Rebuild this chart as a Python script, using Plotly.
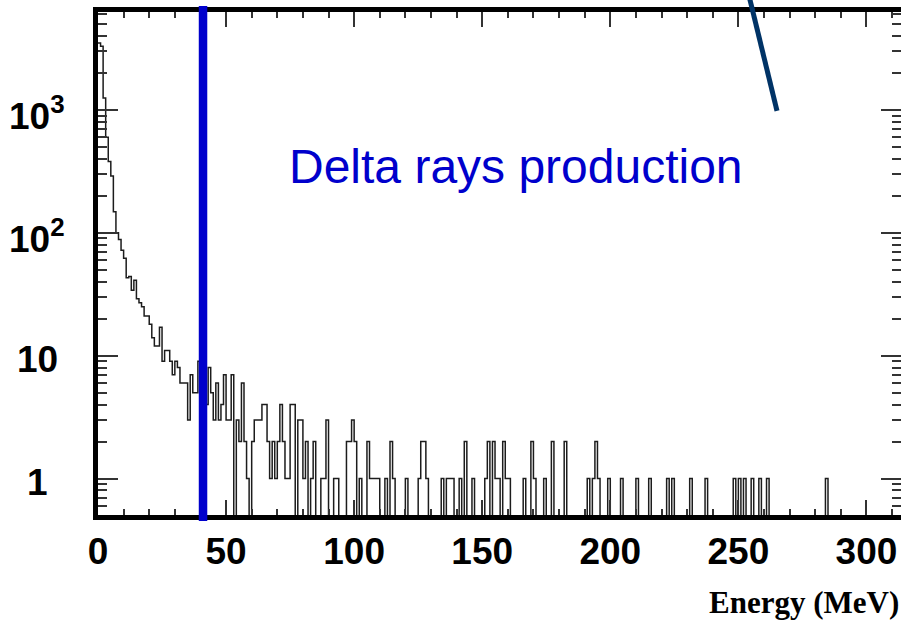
import numpy as np
import plotly.graph_objects as go

# Energy deposit spectrum, 1 MeV bins starting at 0 MeV
bin_width = 1.0
n_bins = 313

# counts in bins 0..99 MeV
counts_low = [
    3500, 3300, 1250, 600, 380, 290, 148, 100, 88, 72, 62, 43, 44, 34, 41, 29, 27, 25, 21, 21,
    18, 14, 12, 12, 17, 9, 11, 11, 9, 7, 9, 8, 6, 6, 6, 3, 7, 5, 5, 9,
    8, 5, 4, 8, 5, 3, 6, 3, 4, 7, 3, 3, 7, 0, 3, 2, 6, 2, 1, 0,
    2, 3, 3, 3, 4, 4, 2, 1, 2, 1, 2, 4, 2, 1, 1, 4, 4, 0, 3, 3,
    1, 2, 0, 1, 2, 0, 0, 1, 1, 3, 0, 0, 1, 1, 0, 0, 0, 2, 2, 3,
]

# non-empty bins above 100 MeV
tail_bins = [100, 102, 105, 106, 107, 108, 109, 112, 114, 115, 120, 125, 126, 127, 128,
             134, 136, 137, 138, 141, 143, 146, 151, 152, 154, 155, 156, 158, 159, 160,
             166, 169, 170, 174, 177, 182, 191, 193, 194, 195, 199, 204, 210, 215, 222,
             224, 231, 237, 248, 250, 252, 255, 258, 261, 284]
tail_counts = [2, 1, 2, 1, 1, 1, 1, 1, 2, 1, 1, 1, 2, 2, 1,
               1, 1, 1, 1, 1, 2, 1, 1, 2, 2, 1, 1, 2, 1, 1,
               1, 2, 1, 1, 2, 2, 1, 1, 2, 1, 1, 1, 1, 1, 1,
               1, 1, 1, 1, 1, 1, 1, 1, 1, 1]

cut_energy = 41.0  # MeV, marked threshold

x_tick_vals = [0, 50, 100, 150, 200, 250, 300]
x_minor_vals = [v for v in range(0, 320, 10) if v % 50 != 0]
y_tick_vals = [1, 10, 100, 1000]
y_tick_text = ["1", "10", "10<sup>2</sup>", "10<sup>3</sup>"]
y_minor_vals = [0.6, 0.7, 0.8, 0.9] + [m * 10 ** e for e in range(0, 4) for m in range(2, 10) if m * 10 ** e < 7000]

# assemble the histogram
counts = np.zeros(n_bins)
counts[:len(counts_low)] = counts_low
counts[np.array(tail_bins)] = tail_counts
edges = np.arange(n_bins + 1) * bin_width
shown = np.where(counts > 0, counts, 1e-2)  # empty bins drop below the axis
step_y = np.append(shown, shown[-1])

fig = go.Figure()
fig.add_trace(go.Scatter(
    x=edges, y=step_y, mode="lines",
    line=dict(shape="hv", color="#1c1c1c", width=1.5),
    hoverinfo="skip",
))

L, R, T, B = 98, 0, 12, 104.5
W, H = 901, 620
plot_h = H - T - B
plot_w = W - L - R

axis_font = dict(family="Liberation Sans, Arial, sans-serif", size=37, color="black", weight="bold")

fig.update_layout(
    width=W, height=H,
    margin=dict(l=L, r=R, t=T, b=B, autoexpand=False),
    plot_bgcolor="white", paper_bgcolor="white",
    showlegend=False,
)
fig.update_xaxes(
    range=[0, 313.5], showgrid=False, zeroline=False, automargin=False,
    showline=True, linewidth=5, linecolor="black", mirror="allticks",
    ticks="inside", ticklen=15, tickwidth=1.6, tickcolor="#333",
    tickmode="array", tickvals=x_tick_vals,
    tickfont=axis_font,
    minor=dict(tickmode="array", tickvals=x_minor_vals, ticks="inside",
               ticklen=6, tickwidth=1.6, tickcolor="#333"),
)
fig.update_yaxes(
    type="log", range=[-0.297, 3.797], showgrid=False, zeroline=False, automargin=False,
    showline=True, linewidth=5, linecolor="black", mirror="allticks",
    ticks="inside", ticklen=20, tickwidth=1.6, tickcolor="#333",
    tickmode="array", tickvals=y_tick_vals, showticklabels=False,
    minor=dict(tickmode="array", tickvals=y_minor_vals, ticks="inside",
               ticklen=9, tickwidth=1.6, tickcolor="#333"),
)

# y tick labels, centred in the left margin
for v, t in zip(y_tick_vals, y_tick_text):
    fig.add_annotation(
        x=(37 - L) / plot_w, xref="paper", y=np.log10(v), yref="y",
        text=t, showarrow=False, xanchor="center", yanchor="middle",
        font=axis_font, yshift=-4,
    )

# threshold marker
fig.add_shape(
    type="line", xref="x", yref="paper",
    x0=cut_energy, x1=cut_energy, y0=-0.012, y1=1.012,
    line=dict(color="#0000CC", width=8.5), layer="above",
)

# pointer line
fig.add_shape(
    type="line", xref="paper", yref="paper",
    x0=(747.6 - L) / plot_w, y0=(H - B + 10) / plot_h,
    x1=(777 - L) / plot_w, y1=(H - B - 111) / plot_h,
    line=dict(color="#003366", width=5), layer="above",
)

fig.add_annotation(
    x=(516 - L) / plot_w, y=(H - B - 167) / plot_h, xref="paper", yref="paper",
    text="Delta rays production", showarrow=False,
    xanchor="center", yanchor="middle",
    font=dict(family="Liberation Sans, Arial, sans-serif", size=48, color="#0000CC"),
)

fig.add_annotation(
    x=1, y=(H - B - 603) / plot_h, xref="paper", yref="paper",
    text="Energy (MeV)", showarrow=False, xanchor="right", yanchor="middle",
    font=dict(family="Liberation Serif, Times New Roman, serif", size=31, color="black", weight="bold"),
)

fig.write_html("out.html")
